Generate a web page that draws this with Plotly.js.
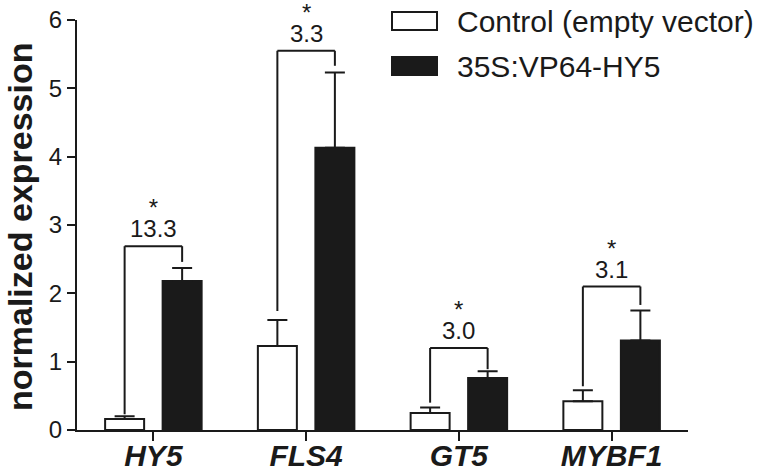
<!DOCTYPE html>
<html>
<head>
<meta charset="utf-8">
<script src="https://cdn.plot.ly/plotly-3.0.1.min.js"></script>
<style>html,body{margin:0;padding:0;background:#fff;}#chart{width:760px;height:473px;}</style>
</head>
<body>
<div id="chart"></div>
<script>
// ---- data ----
const categories = ["HY5", "FLS4", "GT5", "MYBF1"];
const seriesNames = ["Control (empty vector)", "35S:VP64-HY5"];
const controlValues = [0.16, 1.23, 0.25, 0.42];
const controlErrors = [0.04, 0.38, 0.08, 0.16];
const treatedValues = [2.18, 4.13, 0.76, 1.31];
const treatedErrors = [0.19, 1.10, 0.10, 0.44];
const foldLabels = ["13.3", "3.3", "3.0", "3.1"];
const signifLabels = ["*", "*", "*", "*"];
const bracketTop = [2.69, 5.55, 1.20, 2.10];
const bracketLeftEnd = [0.23, 1.74, 0.40, 0.64];
const bracketRightEnd = [2.46, 5.33, 0.89, 1.83];
const yTickVals = [0, 1, 2, 3, 4, 5, 6];
const yTitle = "normalized expression";

// ---- styling ----
const INK = "#1a1a1a";
const FONT = "Liberation Sans, Arial, Helvetica, sans-serif";
const bargap = 0.247, bargroupgap = 0.322;
const halfSlot = (1 - bargap) / 4;

const errStyle = (arr) => ({type: "data", symmetric: false, array: arr,
  arrayminus: arr.map(() => 0), color: INK, thickness: 2, width: 10});

const traces = [
  {type: "bar", name: seriesNames[0], x: categories, y: controlValues,
   marker: {color: "#ffffff", line: {color: INK, width: 2}},
   error_y: errStyle(controlErrors), showlegend: false},
  {type: "bar", name: seriesNames[1], x: categories, y: treatedValues,
   marker: {color: INK, line: {color: INK, width: 2}},
   error_y: errStyle(treatedErrors), showlegend: false}
];

const shapes = [];
const annotations = [];
categories.forEach((c, i) => {
  const xl = i - halfSlot, xr = i + halfSlot;
  const ln = {type: "line", xref: "x", yref: "y", line: {color: INK, width: 2}};
  shapes.push(Object.assign({}, ln, {x0: xl, x1: xl, y0: bracketLeftEnd[i], y1: bracketTop[i]}));
  shapes.push(Object.assign({}, ln, {x0: xl, x1: xr, y0: bracketTop[i], y1: bracketTop[i]}));
  shapes.push(Object.assign({}, ln, {x0: xr, x1: xr, y0: bracketRightEnd[i], y1: bracketTop[i]}));
  annotations.push({xref: "x", yref: "y", x: i, y: bracketTop[i],
    text: "<span style='font-size:24px'>" + signifLabels[i] + "</span><br>" +
          "<span style='font-size:24px'>" + foldLabels[i] + "</span>",
    showarrow: false, yanchor: "bottom", yshift: 2, align: "center",
    font: {family: FONT, size: 16, color: INK}});
});

// legend (drawn manually)
const L = 77, R = 688, T = 20, B = 430;
const px = (v) => (v - L) / (R - L);
const py = (v) => (B - v) / (B - T);
shapes.push({type: "rect", xref: "paper", yref: "paper", x0: px(392), x1: px(437), y0: py(30), y1: py(12),
  fillcolor: "#ffffff", line: {color: INK, width: 2}});
shapes.push({type: "rect", xref: "paper", yref: "paper", x0: px(392), x1: px(437), y0: py(75), y1: py(57),
  fillcolor: INK, line: {color: INK, width: 2}});
annotations.push({xref: "paper", yref: "paper", x: px(455), y: py(21), xanchor: "left", yanchor: "middle",
  text: seriesNames[0], showarrow: false, font: {family: FONT, size: 30, color: INK}});
annotations.push({xref: "paper", yref: "paper", x: px(455), y: py(66), xanchor: "left", yanchor: "middle",
  text: seriesNames[1], showarrow: false, font: {family: FONT, size: 30, color: INK}});

// y title
annotations.push({xref: "paper", yref: "paper", x: px(20), y: py(227), xanchor: "center", yanchor: "middle",
  text: yTitle, textangle: -90, showarrow: false,
  font: {family: FONT, size: 34, color: INK, weight: "bold"}});

const layout = {
  width: 760, height: 473,
  margin: {l: L, r: 760 - R, t: T, b: 473 - B, pad: 0},
  paper_bgcolor: "#ffffff", plot_bgcolor: "#ffffff",
  barmode: "group", bargap: bargap, bargroupgap: bargroupgap,
  showlegend: false,
  font: {family: FONT, color: INK},
  xaxis: {type: "category", range: [-0.5, 3.5], showline: true, linecolor: INK, linewidth: 2,
    ticks: "outside", ticklen: 9, tickwidth: 2, tickcolor: INK, showgrid: false, zeroline: false,
    automargin: false, fixedrange: true, ticklabelstandoff: -11,
    tickfont: {family: FONT, size: 30, color: INK, weight: "bold", style: "italic"}},
  yaxis: {range: [0, 6], tickvals: yTickVals, showline: true, linecolor: INK, linewidth: 2,
    ticks: "outside", ticklen: 8, tickwidth: 2, tickcolor: INK, showgrid: false, zeroline: false,
    automargin: false, fixedrange: true,
    tickfont: {family: FONT, size: 24, color: INK}},
  shapes: shapes,
  annotations: annotations
};

Plotly.newPlot("chart", traces, layout, {staticPlot: true, displayModeBar: false});
</script>
</body>
</html>
